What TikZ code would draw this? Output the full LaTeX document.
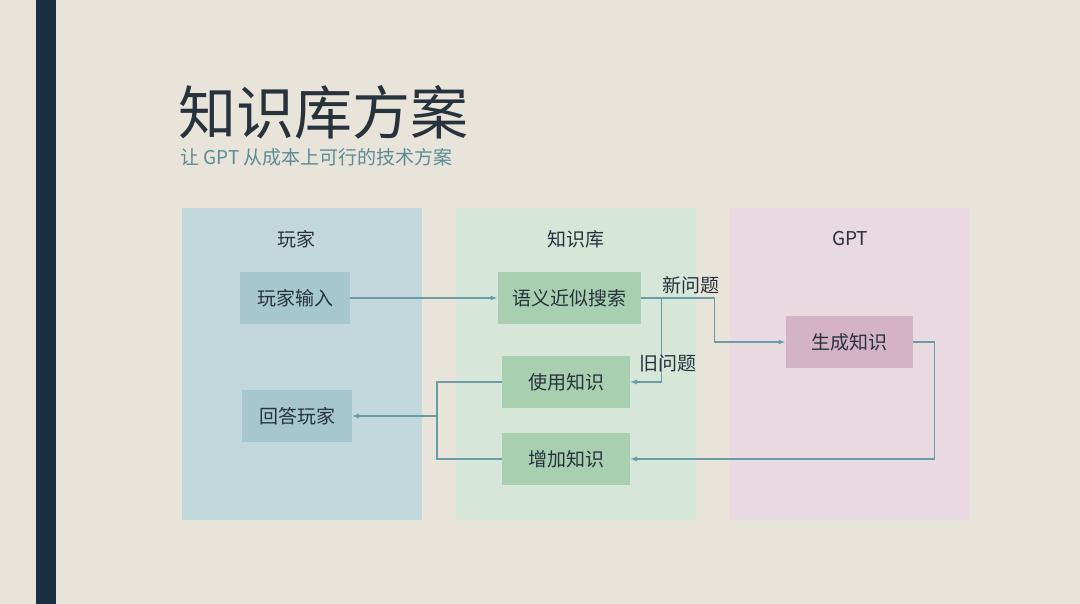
\documentclass[tikz,border=0pt]{standalone}
\usepackage{fontspec}
\setmainfont{Noto Sans CJK SC}
\usetikzlibrary{arrows.meta,positioning}
\definecolor{bgcol}{RGB}{233,228,218}
\definecolor{barcol}{RGB}{27,47,64}
\definecolor{subcol}{RGB}{90,140,150}
\definecolor{panelA}{RGB}{195,216,221}
\definecolor{panelB}{RGB}{214,230,217}
\definecolor{panelC}{RGB}{233,217,224}
\definecolor{boxA}{RGB}{166,199,206}
\definecolor{boxB}{RGB}{168,207,176}
\definecolor{boxC}{RGB}{212,179,196}
\definecolor{linecol}{RGB}{106,156,166}
\definecolor{textcol}{RGB}{40,50,60}
\tikzset{
  panel/.style={inner sep=0, outer sep=0, minimum width=240pt, minimum height=312pt},
  box/.style={inner sep=0, outer sep=0, minimum height=52pt, text=textcol, font=\fontsize{19pt}{19pt}\selectfont},
  flow/.style={draw=linecol, line width=1.2pt, -{Latex[length=7pt,width=5pt]}},
  lbl/.style={text=textcol, inner sep=1pt, font=\fontsize{19pt}{19pt}\selectfont}
}
\begin{document}
\begin{tikzpicture}[x=1pt,y=-1pt]
  \useasboundingbox (0,0) rectangle (1080,604);
  \fill[bgcol] (0,0) rectangle (1080,604);
  \fill[barcol] (36,0) rectangle (56,604);
  % title
  \node[anchor=base west, inner sep=0, text=textcol, font=\fontsize{58pt}{58pt}\selectfont] (title) at (178,135) {知识库方案};
  \node[anchor=base west, inner sep=0, text=subcol, font=\fontsize{19pt}{19pt}\selectfont] (subtitle) at (180,165) {让 GPT 从成本上可行的技术方案};
  % panels
  \node[panel, fill=panelA, anchor=north west] (pPlayer) at (182,208) {};
  \node[panel, fill=panelB, anchor=north west] (pBase) at (456,208) {};
  \node[panel, fill=panelC, anchor=north west] (pGpt) at (730,208) {};
  \node[lbl] (tPlayer) at (296,239) {玩家};
  \node[lbl] (tBase) at (576,239) {知识库};
  \node[lbl] (tGpt) at (850,239) {GPT};
  % boxes
  \node[box, fill=boxA, minimum width=110pt] (input) at (295,298) {玩家输入};
  \node[box, fill=boxA, minimum width=110pt] (answer) at (297,416) {回答玩家};
  \node[box, fill=boxB, minimum width=143pt] (search) at (569,298) {语义近似搜索};
  \node[box, fill=boxB, minimum width=128pt] (use) at (566,382) {使用知识};
  \node[box, fill=boxB, minimum width=128pt] (add) at (566,459) {增加知识};
  \node[box, fill=boxC, minimum width=127pt] (gen) at (849,342) {生成知识};
  \coordinate (split) at (437,416);
  % connectors
  \draw[flow] (input) -- (search);
  \draw[flow] (search.east) -- ++(74,0) |- (gen.west);
  \draw[flow] (search.east) -- ++(21,0) |- (use.east);
  \draw[flow] (gen.east) -- ++(22,0) |- (add.east);
  \draw[draw=linecol, line width=1.2pt] (use.west) -| (split) |- (add.west);
  \draw[flow] (split) -- (answer.east);
  \node[lbl, anchor=west] (qNew) at (661,285) {新问题};
  \node[lbl, anchor=west] (qOld) at (638,363) {旧问题};
\end{tikzpicture}
\end{document}
